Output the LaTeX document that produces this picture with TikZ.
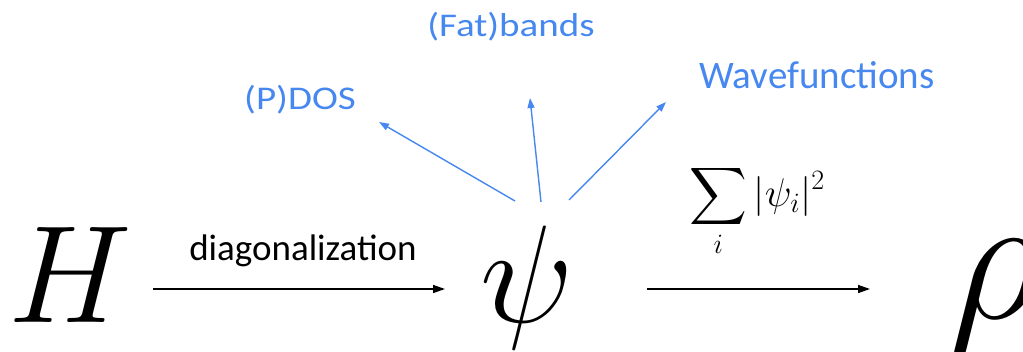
\RequirePackage{fix-cm}
\documentclass[tikz,border=0pt]{standalone}
\DeclareFontShape{OMX}{cmex}{m}{n}{<->cmex10}{}
\usepackage{fontspec}
\setmainfont{Carlito}
\usetikzlibrary{arrows.meta}
\definecolor{pblue}{RGB}{70,135,240}
\begin{document}
\begin{tikzpicture}[x=1pt,y=-1pt,
  blk/.style={line width=1.4pt,-{Triangle[length=12pt,width=8pt]}},
  blu/.style={line width=1.4pt,draw=pblue,-{Triangle[length=10pt,width=7pt]},color=pblue},
  bt/.style={text=pblue,inner sep=0pt,font=\fontsize{39}{44}\selectfont},
  big/.style={inner sep=0pt}]
\path[use as bounding box] (0,0) rectangle (1023,351);
\node[big,anchor=base west] (H) at (8,322) {\fontsize{139}{150}\selectfont$H$};
\node[big,anchor=base] (psi) at (527,322) {\fontsize{139}{150}\selectfont$\psi$};
\node[big,anchor=base west] (rho) at (949,318) {\fontsize{182}{190}\selectfont$\rho$};
\node[inner sep=0pt,anchor=base] (diag) at (303,260) {\fontsize{37}{44}\selectfont diagonalization};
\node[inner sep=0pt] (sum) at (757,211) {\fontsize{40}{48}\selectfont$\displaystyle\sum_i |\psi_i|^2$};
\node[bt] (pdos) at (300,100) {\scalebox{1}[0.85]{(P)DOS}};
\node[bt] (fat) at (511,27) {\scalebox{1}[0.85]{(Fat)bands}};
\node[bt] (wave) at (817,75) {Wavefunctions};
\coordinate (a1s) at (153,289);
\coordinate (a1e) at (445,289);
\coordinate (a2s) at (647,289);
\coordinate (a2e) at (870,289);
\coordinate (p1) at (515,201);
\coordinate (p2) at (541,202);
\coordinate (p3) at (569,200);
\coordinate (h1) at (379,122);
\coordinate (h2) at (530,98);
\coordinate (h3) at (666,102);
\draw[blk] (a1s) -- (a1e);
\draw[blk] (a2s) -- (a2e);
\draw[blu] (p1) -- (h1);
\draw[blu] (p2) -- (h2);
\draw[blu] (p3) -- (h3);
\end{tikzpicture}
\end{document}
